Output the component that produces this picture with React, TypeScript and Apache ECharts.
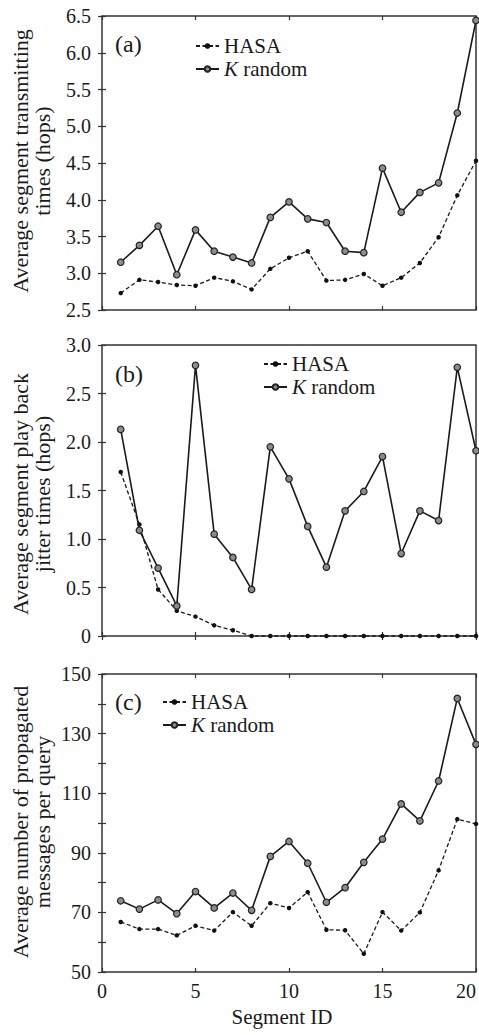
import React, { useEffect, useRef } from "react";
import * as echarts from "echarts";

const segmentIds = [1, 2, 3, 4, 5, 6, 7, 8, 9, 10, 11, 12, 13, 14, 15, 16, 17, 18, 19, 20];

const hasaTransmit = [2.73, 2.91, 2.88, 2.84, 2.83, 2.94, 2.89, 2.78, 3.06, 3.21, 3.3, 2.9, 2.91, 2.99, 2.83, 2.94, 3.14, 3.49, 4.06, 4.53];
const kRandomTransmit = [3.15, 3.38, 3.64, 2.98, 3.59, 3.3, 3.22, 3.14, 3.76, 3.97, 3.74, 3.69, 3.3, 3.28, 4.43, 3.83, 4.1, 4.23, 5.18, 6.44];

const hasaJitter = [1.69, 1.15, 0.48, 0.26, 0.2, 0.11, 0.06, 0, 0, 0, 0, 0, 0, 0, 0, 0, 0, 0, 0, 0];
const kRandomJitter = [2.13, 1.09, 0.7, 0.31, 2.79, 1.05, 0.81, 0.48, 1.95, 1.62, 1.13, 0.71, 1.29, 1.49, 1.85, 0.85, 1.29, 1.19, 2.77, 1.91];

const hasaMessages = [66.8, 64.4, 64.4, 62.3, 65.5, 63.9, 70.1, 65.5, 73.1, 71.5, 76.8, 64.2, 64.0, 56.1, 70.1, 63.9, 70.0, 84.1, 101.3, 99.7];
const kRandomMessages = [73.9, 71.1, 74.2, 69.6, 77.0, 71.5, 76.5, 70.7, 88.8, 93.8, 86.5, 73.4, 78.3, 86.8, 94.6, 106.4, 100.7, 114.1, 141.8, 126.4];

const seriesNames = ["HASA", "K random"];
const panelLetters = ["(a)", "(b)", "(c)"];
const yTitles = [
  "Average segment transmitting\ntimes (hops)",
  "Average segment play back\njitter times (hops)",
  "Average number of propagated\nmessages per query",
];
const xTitle = "Segment ID";

const FONT = "Liberation Serif";
const INK = "#1a1a1a";
const FRAME = "#333";

function pairs(vals: number[]) {
  return segmentIds.map((x, i) => [x, vals[i]]);
}

export default function App() {
  const ref = useRef<HTMLDivElement>(null);

  useEffect(() => {
    document.body.style.margin = "0";
    if (!ref.current) return;
    const chart = echarts.init(ref.current, undefined, { renderer: "svg" });

    const panels = [
      {
        top: 16, height: 294, min: 2.5, max: 6.5, interval: 0.5,
        fmt: (v: number) => v.toFixed(1),
        hasa: hasaTransmit, krand: kRandomTransmit,
        legendLeft: 195, legendTop: 35, letterY: 44, titleY: 161,
      },
      {
        top: 345, height: 291, min: 0, max: 3, interval: 0.5,
        fmt: (v: number) => (v === 0 ? "0" : v.toFixed(1)),
        hasa: hasaJitter, krand: kRandomJitter,
        legendLeft: 263, legendTop: 353, letterY: 374, titleY: 494,
      },
      {
        top: 674, height: 298, min: 50, max: 150, interval: 10,
        fmt: (v: number) => ((v - 50) % 20 === 0 ? String(v) : ""),
        hasa: hasaMessages, krand: kRandomMessages,
        legendLeft: 162, legendTop: 691, letterY: 702, titleY: 822,
      },
    ];

    const left = 102;
    const width = 374;

    const tick = { show: true, inside: true, length: 4, lineStyle: { color: FRAME, width: 1.2 } };

    const grid: any[] = [];
    const xAxis: any[] = [];
    const yAxis: any[] = [];
    const series: any[] = [];
    const legend: any[] = [];
    const graphic: any[] = [];

    panels.forEach((p, i) => {
      grid.push({
        left, width, top: p.top, height: p.height,
        show: true, borderColor: FRAME, borderWidth: 1.5, backgroundColor: "transparent",
      });
      const isLast = i === panels.length - 1;
      xAxis.push({
        gridIndex: i, type: "value", min: 0, max: 20, interval: 5, position: "bottom",
        axisLine: { show: false }, axisTick: tick, splitLine: { show: false },
        axisLabel: {
          show: isLast, margin: 9, fontSize: 20, lineHeight: 20, fontFamily: FONT, color: INK,
          alignMaxLabel: "right",
        },
        name: isLast ? xTitle : "",
        nameLocation: "middle", nameGap: 34,
        nameTextStyle: { fontSize: 21, lineHeight: 22, fontFamily: FONT, color: INK, padding: [0, 14, 0, 0] },
      });
      xAxis.push({
        gridIndex: i, type: "value", min: 0, max: 20, interval: 5, position: "top",
        axisLine: { show: false }, axisTick: tick, splitLine: { show: false }, axisLabel: { show: false },
      });
      yAxis.push({
        gridIndex: i, type: "value", min: p.min, max: p.max, interval: p.interval, position: "left",
        axisLine: { show: false }, axisTick: tick, splitLine: { show: false },
        axisLabel: { margin: 11, fontSize: 20, fontFamily: FONT, color: INK, formatter: p.fmt },
      });
      yAxis.push({
        gridIndex: i, type: "value", min: p.min, max: p.max, interval: p.interval, position: "right",
        axisLine: { show: false }, axisTick: tick, splitLine: { show: false }, axisLabel: { show: false },
      });

      series.push({
        name: seriesNames[0], type: "line", xAxisIndex: i * 2, yAxisIndex: i * 2,
        data: pairs(p.hasa), clip: false, symbol: "circle", symbolSize: 4.5,
        lineStyle: { color: INK, width: 1.3, type: [4, 2.5] },
        itemStyle: { color: "#111" },
        z: 2,
      });
      series.push({
        name: seriesNames[1], type: "line", xAxisIndex: i * 2, yAxisIndex: i * 2,
        data: pairs(p.krand), clip: false, symbol: "circle", symbolSize: 6.5,
        lineStyle: { color: INK, width: 1.6 },
        itemStyle: { color: "#8c8c8c", borderColor: "#222", borderWidth: 1.2 },
        z: 3,
      });

      legend.push({
        orient: "vertical", left: p.legendLeft, top: p.legendTop, padding: 0,
        itemWidth: 23, itemHeight: 7, itemGap: 1,
        data: seriesNames,
        formatter: (name: string) => (name === "K random" ? "{i|K} random" : name),
        textStyle: {
          fontSize: 21, lineHeight: 22, fontFamily: FONT, color: INK,
          rich: { i: { fontStyle: "italic", fontSize: 21, lineHeight: 22, fontFamily: FONT, color: INK } },
        },
        selectedMode: false,
      });

      graphic.push({
        type: "text", x: 115, y: p.letterY,
        style: { text: panelLetters[i], fontSize: 24, fontFamily: FONT, fill: INK, textAlign: "left", textVerticalAlign: "middle" },
      });
      graphic.push({
        type: "text", x: 31, y: p.titleY, rotation: Math.PI / 2,
        style: {
          text: yTitles[i], fontSize: 22, lineHeight: 22, fontFamily: FONT, fill: INK,
          textAlign: "center", textVerticalAlign: "middle",
        },
      });
    });

    chart.setOption({
      animation: false,
      backgroundColor: "#fff",
      grid, xAxis, yAxis, series, legend, graphic,
    });

    return () => chart.dispose();
  }, []);

  return <div ref={ref} style={{ width: 479, height: 1035 }} />;
}
